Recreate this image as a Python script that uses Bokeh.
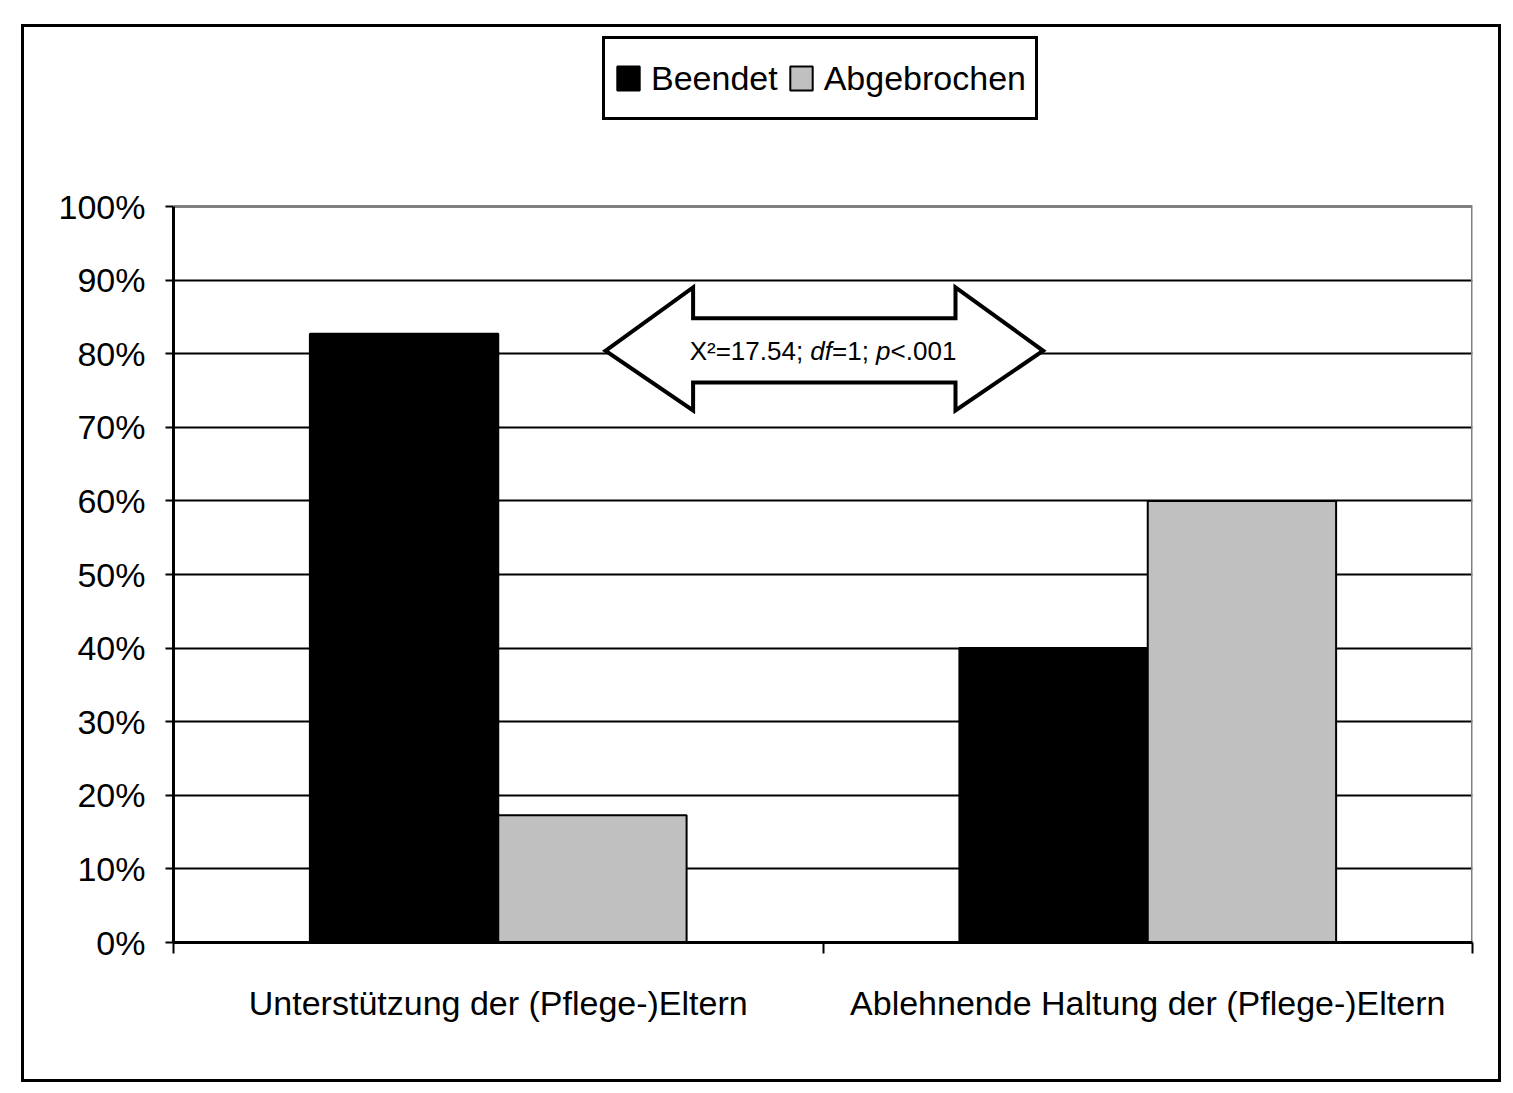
from bokeh.plotting import figure
from bokeh.models import Range1d, FixedTicker, Legend, LegendItem, LinearAxis
from bokeh.core.properties import value
from bokeh.embed import file_html
from bokeh.resources import INLINE

# ---- data ----
categories = ["Unterstützung der (Pflege-)Eltern", "Ablehnende Haltung der (Pflege-)Eltern"]
series_names = ["Beendet", "Abgebrochen"]
beendet = [82.7, 40.0]
abgebrochen = [17.3, 60.0]
y_ticks = [0, 10, 20, 30, 40, 50, 60, 70, 80, 90, 100]
y_tick_labels = ["0%", "10%", "20%", "30%", "40%", "50%", "60%", "70%", "80%", "90%", "100%"]
stat_text = ["X²=17.54; ", "df", "=1; ", "p", "<.001"]
stat_italic = [False, True, False, True, False]

FONT = "Liberation Sans"
FS = "34px"
W, H = 1474, 1052
CANVAS_H = H + 6        # canvas measured incl. css border
BOTTOM = 143            # space below the plot area
AREA_H = 736            # height of the 0-100 % plot area in px
Y_MAX = 100 * (CANVAS_H - BOTTOM) / AREA_H   # frame reaches the canvas top (room for legend)

p = figure(width=W, height=H, output_backend="svg", toolbar_location=None,
           x_range=Range1d(0, 2), y_range=Range1d(0, Y_MAX),
           min_border_left=149, min_border_right=32, min_border_top=0,
           min_border_bottom=BOTTOM, x_axis_location=None, y_axis_location=None)
p.background_fill_color = "white"
p.border_fill_color = "white"
p.outline_line_color = None
p.margin = (24, 0, 0, 21)
p.styles = {"border": "3px solid black", "box-sizing": "content-box"}

centers = [i + 0.5 for i in range(len(categories))]
bw = 0.29
x_b = [c - bw / 2 for c in centers]
x_a = [c + bw / 2 for c in centers]

# grid
p.xgrid.visible = False
p.ygrid.ticker = FixedTicker(ticks=y_ticks[1:-1])
p.ygrid.grid_line_color = "black"
p.ygrid.grid_line_width = 2

# grey plot-area border (top and right)
p.line([0, 2, 2], [y_ticks[-1], y_ticks[-1], 0], line_color="#808080", line_width=3)

r_b = p.vbar(x=x_b, top=beendet, width=bw, bottom=0, fill_color="black",
             line_color="black", line_width=2)
r_a = p.vbar(x=x_a, top=abgebrochen, width=bw, bottom=0, fill_color="#c0c0c0",
             line_color="black", line_width=2)

# y axis
yax = LinearAxis(ticker=FixedTicker(ticks=y_ticks), bounds=(y_ticks[0], y_ticks[-1]),
                 major_label_overrides={t: l for t, l in zip(y_ticks, y_tick_labels)})
yax.axis_line_color = "black"
yax.axis_line_width = 3
yax.major_tick_line_color = "black"
yax.major_tick_line_width = 2
yax.major_tick_out = 8
yax.major_tick_in = 0
yax.minor_tick_line_color = None
yax.major_label_text_font = FONT
yax.major_label_text_font_size = FS
yax.major_label_text_color = "black"
yax.major_label_standoff = 20
p.add_layout(yax, "left")

# x axis
xax = LinearAxis(ticker=FixedTicker(ticks=centers, minor_ticks=[0, 1, 2]),
                 major_label_overrides={c: n for c, n in zip(centers, categories)})
xax.axis_line_color = "black"
xax.axis_line_width = 3
xax.major_tick_line_color = None
xax.major_tick_out = 0
xax.major_tick_in = 0
xax.minor_tick_line_color = "black"
xax.minor_tick_line_width = 2
xax.minor_tick_out = 11
xax.minor_tick_in = 0
xax.major_label_text_font = FONT
xax.major_label_text_font_size = FS
xax.major_label_text_color = "black"
xax.major_label_standoff = 30
p.add_layout(xax, "below")

# double arrow annotation
ax_l, ax_hl, ax_hr, ax_r = 0.665, 0.80, 1.204, 1.339
ay_mid, ay_top, ay_st, ay_sb, ay_bot = 80.4, 89.0, 84.8, 76.1, 72.3
arrow_x = [ax_l, ax_hl, ax_hl, ax_hr, ax_hr, ax_r, ax_hr, ax_hr, ax_hl, ax_hl]
arrow_y = [ay_mid, ay_top, ay_st, ay_st, ay_top, ay_mid, ay_bot, ay_sb, ay_sb, ay_bot]
p.patch(arrow_x, arrow_y, fill_color="white", line_color="black", line_width=4,
        line_join="miter")

# statistic text, pieces with italic parts
fs = 26
char_w = {"X": .667, "²": .333, "=": .584, "1": .556, "7": .556, ".": .278, "5": .556,
          "4": .556, ";": .278, " ": .278, "d": .556, "f": .278, "p": .556, "<": .584,
          "0": .556}
widths = [sum(char_w[c] for c in s) * fs for s in stat_text]
total = sum(widths)
off = -total / 2
for s, it, w in zip(stat_text, stat_italic, widths):
    p.text(x=[1.0], y=[ay_mid], text=[s], x_offset=off, text_align="left",
           text_baseline="middle", text_font=value(FONT),
           text_font_size=f"{fs}px", text_color="black",
           text_font_style="italic" if it else "normal")
    off += w

# legend
legend = Legend(items=[LegendItem(label=series_names[0], renderers=[r_b]),
                       LegendItem(label=series_names[1], renderers=[r_a])],
                orientation="horizontal", location=(429, 822))
legend.label_text_font = FONT
legend.label_text_font_size = FS
legend.label_text_color = "black"
legend.glyph_width = 28
legend.glyph_height = 30
legend.label_height = 60
legend.label_standoff = 9
legend.spacing = 9
legend.padding = 9
legend.margin = 0
legend.border_line_color = "black"
legend.border_line_alpha = 1
legend.border_line_width = 3
legend.background_fill_color = "white"
legend.background_fill_alpha = 1
p.add_layout(legend, "center")

open("out.html", "w").write(file_html(p, INLINE))
